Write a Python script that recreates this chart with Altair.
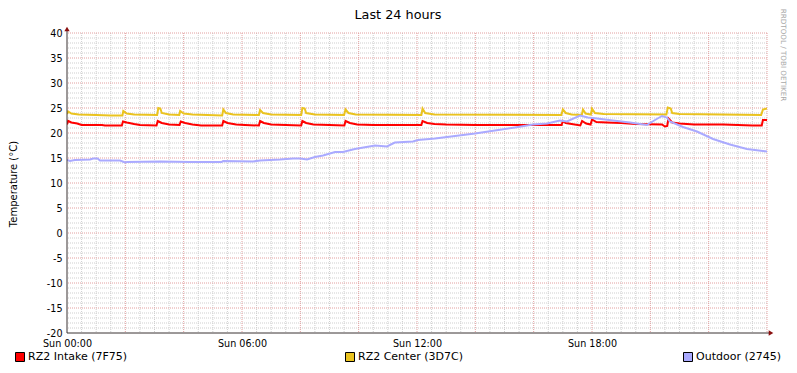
import altair as alt
import pandas as pd

# ---------------- data ----------------
title_text = "Last 24 hours"
y_title = "Temperature (°C)"
watermark = "RRDTOOL / TOBI OETIKER"

series_names = ["RZ2 Intake (7F75)", "RZ2 Center (3D7C)", "Outdoor (2745)"]
series_colors = ["#FF0000", "#EAC31F", "#AAAAFF"]

x_tick_values = [0, 6, 12, 18]
x_tick_labels = ["Sun 00:00", "Sun 06:00", "Sun 12:00", "Sun 18:00"]
y_tick_values = [-20, -15, -10, -5, 0, 5, 10, 15, 20, 25, 30, 35, 40]

# grid positions (hours / degrees)
x_minor = [h / 2 for h in range(0, 49) if h % 4 != 0]
x_major = [h for h in range(2, 25, 2)]
y_minor = [v for v in range(-19, 41) if v % 5 != 0]
y_major = [v for v in range(-15, 41, 5)]

# (hour, °C)
intake = [(0.0, 21.7), (0.04, 22.4), (0.15, 22.1), (0.35, 21.9), (0.5, 21.6), (1.2, 21.6),
          (1.3, 21.5), (1.88, 21.5), (1.92, 22.3), (2.05, 22.1), (2.3, 21.8), (2.5, 21.6),
          (3.07, 21.5), (3.11, 22.4), (3.25, 22.0), (3.5, 21.7), (3.86, 21.6), (3.9, 22.3),
          (4.05, 22.0), (4.3, 21.7), (4.6, 21.5), (5.32, 21.5), (5.36, 22.4), (5.5, 22.0),
          (5.8, 21.7), (6.1, 21.6), (6.58, 21.5), (6.62, 22.4), (6.75, 22.0), (7.0, 21.7),
          (7.5, 21.6), (8.03, 21.5), (8.07, 22.4), (8.2, 22.0), (8.45, 21.7), (9.0, 21.6),
          (9.51, 21.5), (9.55, 22.4), (9.7, 22.0), (9.95, 21.7), (10.5, 21.6), (12.15, 21.6),
          (12.19, 22.4), (12.35, 22.0), (12.6, 21.8), (13.0, 21.7), (14.0, 21.6), (16.96, 21.6),
          (17.0, 22.4), (17.1, 22.0), (17.3, 21.8), (17.6, 21.5), (17.66, 22.4), (17.8, 21.9),
          (17.95, 21.7), (18.0, 22.7), (18.15, 22.2), (18.5, 22.1), (19.0, 22.0), (19.5, 21.8),
          (20.4, 21.7), (20.5, 21.3), (20.58, 21.4), (20.62, 22.9), (20.75, 22.1), (21.0, 21.9),
          (21.5, 21.7), (22.5, 21.7), (23.0, 21.6), (23.5, 21.5), (23.82, 21.5), (23.86, 22.6),
          (24.0, 22.6)]

center = [(0.0, 23.8), (0.04, 24.3), (0.15, 23.9), (0.4, 23.7), (1.0, 23.6), (1.5, 23.5),
          (1.9, 23.5), (1.93, 24.4), (2.05, 23.9), (2.3, 23.7), (3.09, 23.6), (3.13, 25.0),
          (3.2, 24.9), (3.25, 24.0), (3.5, 23.7), (3.85, 23.6), (3.88, 24.4), (4.0, 23.9),
          (4.3, 23.7), (5.32, 23.5), (5.36, 24.7), (5.45, 24.0), (5.7, 23.7), (6.58, 23.6),
          (6.62, 24.6), (6.72, 24.0), (7.0, 23.7), (8.03, 23.6), (8.07, 25.0), (8.15, 24.9),
          (8.2, 24.0), (8.5, 23.7), (9.5, 23.6), (9.55, 24.7), (9.65, 24.0), (9.9, 23.7),
          (12.15, 23.6), (12.19, 24.9), (12.28, 24.0), (12.6, 23.7), (16.95, 23.6), (17.0, 24.7),
          (17.1, 24.0), (17.3, 23.7), (17.65, 23.6), (17.69, 24.7), (17.78, 23.9), (17.96, 23.7),
          (18.0, 24.9), (18.1, 24.0), (18.4, 23.8), (20.55, 23.7), (20.6, 25.1), (20.7, 24.9),
          (20.75, 24.0), (21.0, 23.8), (23.8, 23.6), (23.86, 24.7), (24.0, 24.9)]

outdoor = [(0.0, 14.6), (0.1, 14.4), (0.27, 14.6), (0.79, 14.7), (0.9, 14.9), (1.05, 14.9),
           (1.13, 14.5), (1.82, 14.5), (1.99, 14.1), (2.06, 14.2), (3.2, 14.3), (4.2, 14.2),
           (5.3, 14.2), (5.35, 14.4), (6.38, 14.3), (6.62, 14.5), (7.3, 14.7), (7.75, 14.9),
           (8.0, 14.9), (8.23, 14.7), (8.5, 15.2), (8.78, 15.5), (9.19, 16.2), (9.46, 16.2),
           (9.87, 16.8), (10.56, 17.5), (10.97, 17.3), (11.24, 18.1), (11.86, 18.3), (12.03, 18.6),
           (12.62, 18.9), (13.3, 19.4), (13.99, 19.9), (14.67, 20.5), (15.36, 21.1), (15.98, 21.7),
           (16.46, 21.9), (16.9, 22.5), (17.14, 22.3), (17.59, 23.5), (17.86, 23.1), (18.17, 22.9),
           (18.72, 22.5), (19.3, 22.1), (19.88, 21.6), (20.16, 22.6), (20.4, 23.4), (20.57, 23.1),
           (20.67, 22.3), (21.12, 21.2), (21.6, 20.3), (22.15, 18.8), (22.73, 17.7), (23.31, 16.8),
           (23.86, 16.4), (24.0, 16.3)]

series_data = [intake, center, outdoor]

# ---------------- layout / style ----------------
W, H = 700, 300
FONT = "DejaVu Sans"
MINOR_COLOR = "#CFCFCF"
MAJOR_COLOR = "#E3A0A0"
AXIS_COLOR = "#3A3232"
ARROW_COLOR = "#8A1010"

xscale = alt.Scale(domain=[0, 24], nice=False, zero=False)
yscale = alt.Scale(domain=[-20, 40], nice=False, zero=False)

label_expr = " : ".join(f"datum.value == {v} ? '{l}'" for v, l in zip(x_tick_values, x_tick_labels)) + " : ''"

x_axis = alt.Axis(values=x_tick_values, labelExpr=label_expr, grid=False, domain=False, ticks=False,
                  labelPadding=5, labelFontSize=9.6, labelFont=FONT, labelColor="#000000",
                  title=None, labelFlush=False, labelOverlap=False)
y_axis = alt.Axis(values=y_tick_values, labelExpr="'' + datum.value", grid=False, domain=False,
                  ticks=False, labelPadding=5, labelFontSize=9.6, labelFont=FONT,
                  labelColor="#000000", title=None, labelOverlap=False)

layers = []


def vrules(vals, color):
    return alt.Chart(pd.DataFrame({"h": vals})).mark_rule(
        color=color, strokeWidth=1, strokeDash=[1, 1]
    ).encode(x=alt.X("h:Q", scale=xscale, axis=x_axis))


def hrules(vals, color):
    return alt.Chart(pd.DataFrame({"v": vals})).mark_rule(
        color=color, strokeWidth=1, strokeDash=[1, 1]
    ).encode(y=alt.Y("v:Q", scale=yscale, axis=y_axis))


layers += [vrules(x_minor, MINOR_COLOR), hrules(y_minor, MINOR_COLOR),
           vrules(x_major, MAJOR_COLOR), hrules(y_major, MAJOR_COLOR)]

for name, color, pts in zip(series_names, series_colors, series_data):
    df = pd.DataFrame({"hour": [p[0] for p in pts], "temp": [p[1] for p in pts], "series": name})
    layers.append(
        alt.Chart(df).mark_line(color=color, strokeWidth=2, strokeJoin="miter", clip=True).encode(
            x=alt.X("hour:Q", scale=xscale, axis=x_axis),
            y=alt.Y("temp:Q", scale=yscale, axis=y_axis),
        )
    )

one = pd.DataFrame({"t": [title_text]})

# axis lines and arrows
layers.append(alt.Chart(one).mark_rule(color=AXIS_COLOR, strokeWidth=1).encode(
    x=alt.value(0), y=alt.value(-4), y2=alt.value(H)))
layers.append(alt.Chart(one).mark_rule(color=AXIS_COLOR, strokeWidth=1).encode(
    x=alt.value(0), x2=alt.value(704), y=alt.value(H)))
layers.append(alt.Chart(one).mark_point(shape="triangle-up", filled=True, size=28, color=ARROW_COLOR, opacity=1).encode(
    x=alt.value(0), y=alt.value(-4)))
layers.append(alt.Chart(one).mark_point(shape="triangle-right", filled=True, size=28, color=ARROW_COLOR, opacity=1).encode(
    x=alt.value(704), y=alt.value(H)))

# title
layers.append(alt.Chart(one).mark_text(font=FONT, fontSize=12.8, color="#000000", align="center", baseline="alphabetic").encode(
    x=alt.value(331), y=alt.value(-14.5), text="t:N"))
# y axis title
layers.append(alt.Chart(pd.DataFrame({"t": [y_title]})).mark_text(
    font=FONT, fontSize=10, color="#000000", angle=270, align="center", baseline="middle").encode(
    x=alt.value(-53), y=alt.value(151), text="t:N"))
# watermark
layers.append(alt.Chart(pd.DataFrame({"t": [watermark]})).mark_text(
    font=FONT, fontSize=7.2, color="#A8A8A8", angle=90, align="center", baseline="middle").encode(
    x=alt.value(716), y=alt.value(22), text="t:N"))

# legend
legend_swatch_x = [-47, 283, 621]
for name, color, sx in zip(series_names, series_colors, legend_swatch_x):
    ldf = pd.DataFrame({"name": [name]})
    layers.append(alt.Chart(ldf).mark_square(size=81, fill=color, stroke="#000000", strokeWidth=1,
                                             opacity=1, filled=True).encode(
        x=alt.value(sx), y=alt.value(324)))
    layers.append(alt.Chart(ldf).mark_text(font=FONT, fontSize=11, color="#000000", align="left",
                                           baseline="middle").encode(
        x=alt.value(sx + 8), y=alt.value(324), text="name:N"))

chart = alt.layer(*layers).properties(
    width=W, height=H,
    autosize=alt.AutoSizeParams(type="none"),
    padding={"left": 59, "top": 25, "right": 22, "bottom": 32},
    background="#FFFFFF",
).configure_view(stroke=None)

chart.save("out.html", embed_options={"renderer": "svg", "actions": False})
